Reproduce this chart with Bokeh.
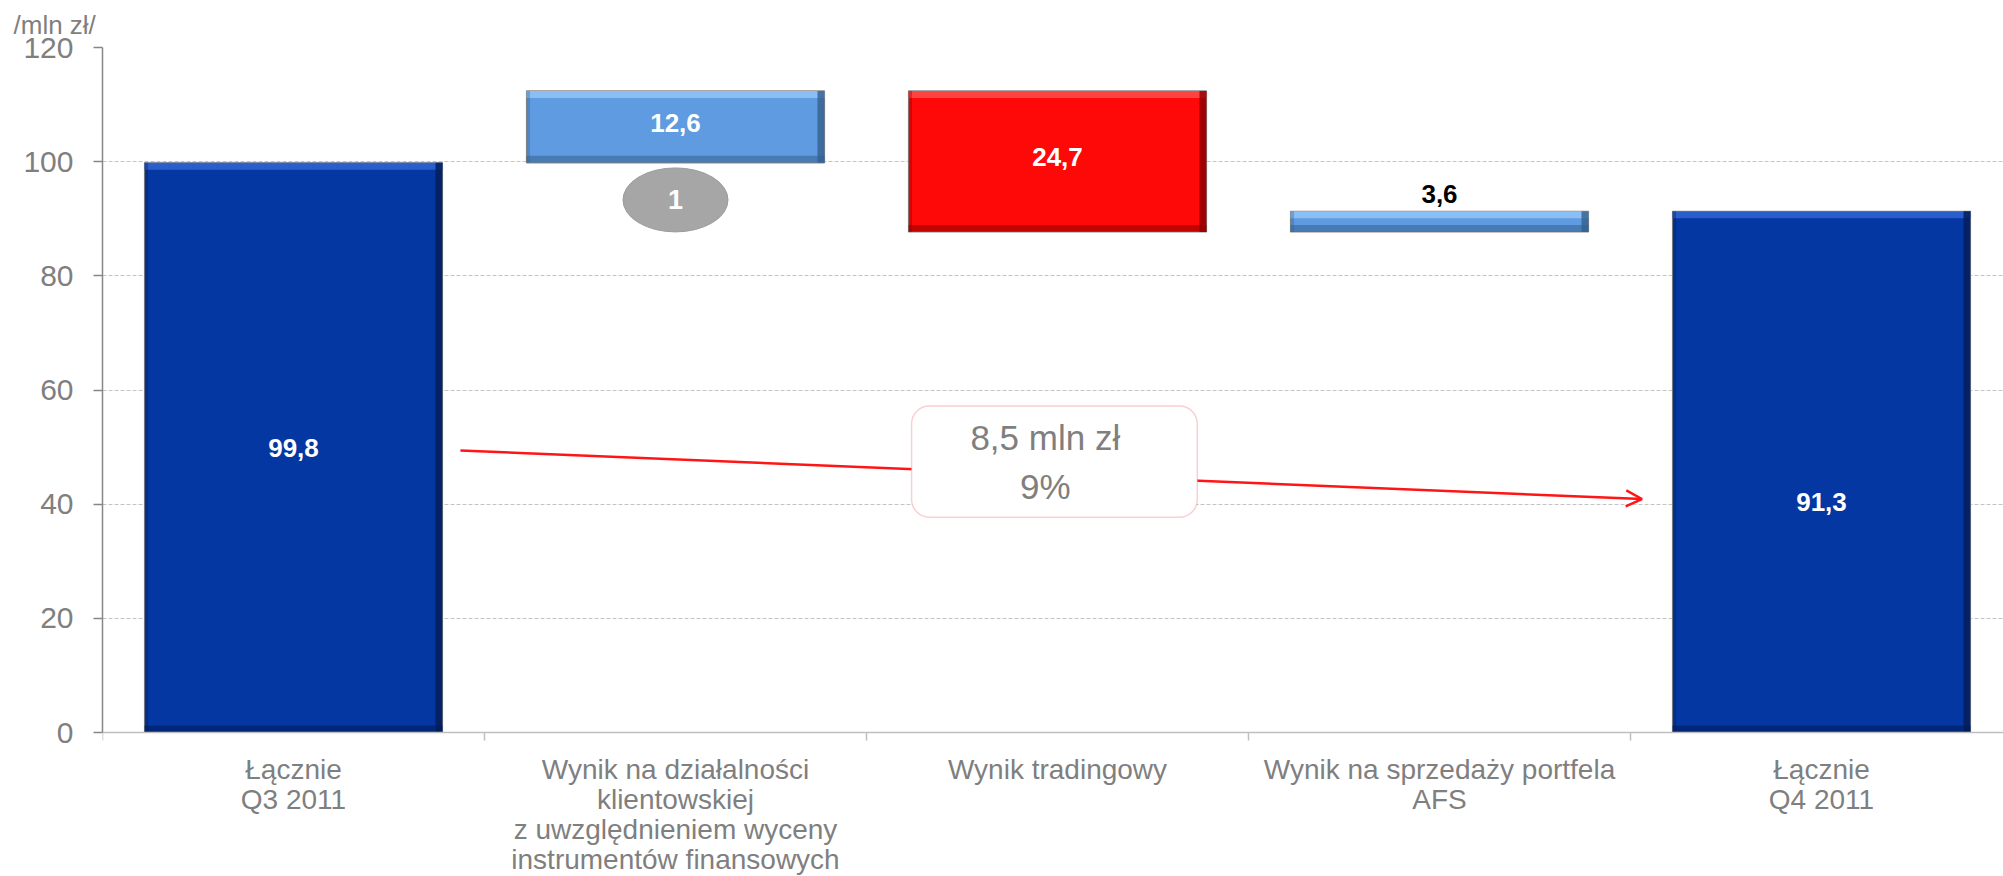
from bokeh.plotting import figure
from bokeh.models import Range1d, FixedTicker, Label, Arrow, OpenHead, BoxAnnotation, ColumnDataSource
from bokeh.core.properties import value
from bokeh.embed import file_html
from bokeh.resources import INLINE

# ---------------- data ----------------
category_lines = [
    ["Łącznie", "Q3 2011"],
    ["Wynik na działalności", "klientowskiej", "z uwzględnieniem wyceny", "instrumentów finansowych"],
    ["Wynik tradingowy"],
    ["Wynik na sprzedaży portfela", "AFS"],
    ["Łącznie", "Q4 2011"],
]
changes = [99.8, 12.6, -24.7, 3.6, 91.3]
kinds = ["total", "up", "down", "up", "total"]
y_ticks = [0, 20, 40, 60, 80, 100, 120]
unit_label = "/mln zł/"
marker_text = "1"

# ---------------- styles ----------------
FONT = "Liberation Sans"
GREY_TXT = "#7f7f7f"
fill_by_kind = {"total": "#0537a2", "up": "#5f9be0", "down": "#fe0808"}
hi_by_kind = {"total": "#2f63cf", "up": "#8fc3f6", "down": "#ff4a4a"}
lo_by_kind = {"total": "#021c55", "up": "#34608f", "down": "#8c0000"}
BAR_W = 0.78

# waterfall geometry from data
bottoms, tops = [], []
running = 0.0
for v, k in zip(changes, kinds):
    if k == "total":
        b, t = 0.0, v
        running = v
    else:
        b, t = running, running + v
        running = t
    bottoms.append(min(b, t))
    tops.append(max(b, t))
xs = [i + 0.5 for i in range(len(changes))]
fmt = lambda v: f"{abs(v):.1f}".replace(".", ",")

W, H = 2003, 876
ML, MT, MB, MR = 102, 47, 0, 0
frame_w = W - ML - MR
frame_h = H - MT - MB
PX_X = 382.0                    # pixels per category
PX_Y = 685.0 / 120.0            # pixels per unit
X_END = frame_w / PX_X
Y_END = 120
Y_MIN = Y_END - frame_h / PX_Y  # room below zero for the category texts

p = figure(width=W, height=H, output_backend="svg", toolbar_location=None,
           x_axis_location="above",
           x_range=Range1d(0, X_END), y_range=Range1d(Y_MIN, Y_END),
           min_border_left=ML, min_border_top=MT, min_border_bottom=MB, min_border_right=MR)
p.outline_line_color = None
p.background_fill_color = "white"
p.border_fill_color = "white"

# unit label as title
p.title.text = unit_label
p.title.align = "left"
p.title.offset = -89
p.title.standoff = 15
p.title.text_font = FONT
p.title.text_font_size = "26px"
p.title.text_font_style = "normal"
p.title.text_color = GREY_TXT

# y axis
p.yaxis.ticker = FixedTicker(ticks=y_ticks)
p.yaxis.bounds = (0, Y_END)
p.yaxis.axis_line_color = "#868686"
p.yaxis.axis_line_width = 1.5
p.yaxis.major_tick_line_color = "#868686"
p.yaxis.major_tick_line_width = 1.5
p.yaxis.major_tick_out = 9
p.yaxis.major_tick_in = 0
p.yaxis.minor_tick_line_color = None
p.yaxis.major_label_text_font = FONT
p.yaxis.major_label_text_font_size = "30px"
p.yaxis.major_label_text_color = GREY_TXT
p.yaxis.major_label_standoff = 20

# x axis drawn at y = 0, ticks between categories pointing down
boundaries = list(range(len(changes) + 1))
p.xaxis.fixed_location = 0
p.xaxis.ticker = FixedTicker(ticks=boundaries)
p.xaxis.major_label_overrides = {b: "" for b in boundaries}
p.xaxis.axis_line_color = "#bfbfbf"
p.xaxis.axis_line_width = 1.5
p.xaxis.major_tick_line_color = "#bfbfbf"
p.xaxis.major_tick_line_width = 1.5
p.xaxis.major_tick_out = 0
p.xaxis.major_tick_in = 8
p.xaxis.minor_tick_line_color = None
p.xaxis.major_label_text_font_size = "1px"
p.xaxis.major_label_text_color = None
p.xaxis.major_label_standoff = 0

p.xgrid.grid_line_color = None
p.ygrid.ticker = FixedTicker(ticks=y_ticks[1:])
p.ygrid.grid_line_color = "#c4c4c4"
p.ygrid.grid_line_dash = "4 2"
p.ygrid.grid_line_width = 1

# category texts under the axis
tx, ty, tt = [], [], []
for x, lines in zip(xs, category_lines):
    for j, line in enumerate(lines):
        tx.append(x)
        ty.append(-(37.0 + 30.0 * j) / PX_Y)
        tt.append(line)
p.text(x=tx, y=ty, text=tt, text_font=value(FONT), text_font_size="28px",
       text_color=GREY_TXT, text_align="center", text_baseline="middle")

# bars
src = ColumnDataSource(dict(
    x=xs, bottom=bottoms, top=tops,
    fill=[fill_by_kind[k] for k in kinds],
))
p.vbar(x="x", width=BAR_W, bottom="bottom", top="top", source=src,
       fill_color="fill", line_color="#8a8a8a", line_width=1.2)

# bevel strips (thickness in pixels converted via the scales)
bev = 7
dx = bev / PX_X
dy = bev / PX_Y
lefts = [x - BAR_W / 2 for x in xs]
rights = [x + BAR_W / 2 for x in xs]
p.quad(left=lefts, right=rights, top=tops, bottom=[t - dy for t in tops],
       fill_color=[hi_by_kind[k] for k in kinds], line_color=None, fill_alpha=0.9)
p.quad(left=[r - dx for r in rights], right=rights, top=tops, bottom=bottoms,
       fill_color=[lo_by_kind[k] for k in kinds], line_color=None, fill_alpha=0.8)
p.quad(left=lefts, right=rights, top=[b + dy for b in bottoms], bottom=bottoms,
       fill_color=[lo_by_kind[k] for k in kinds], line_color=None, fill_alpha=0.55)
p.quad(left=lefts, right=[l + dx * 0.5 for l in lefts], top=tops, bottom=bottoms,
       fill_color=[lo_by_kind[k] for k in kinds], line_color=None, fill_alpha=0.35)

# value labels
label_offsets = [0, 4, 4, 17, -30]
for i, (v, k) in enumerate(zip(changes, kinds)):
    y = tops[i] if i == 3 else (bottoms[i] + tops[i]) / 2
    color = "black" if i == 3 else "white"
    p.add_layout(Label(x=xs[i], y=y, y_offset=label_offsets[i], text=fmt(v),
                       text_font=FONT, text_font_style="bold", text_font_size="26px",
                       text_color=color, text_align="center", text_baseline="middle"))

# marker ellipse "1"
p.ellipse(x=[xs[1]], y=[93.3], width=105, height=64, width_units="screen", height_units="screen",
          fill_color="#a6a6a6", line_color="#9c9c9c")
p.add_layout(Label(x=xs[1], y=93.3, text=marker_text, text_font=FONT, text_font_style="bold",
                   text_font_size="27px", text_color="white", text_align="center",
                   text_baseline="middle"))

# arrow from first total to last total
p.add_layout(Arrow(x_start=0.937, y_start=49.4, x_end=4.03, y_end=40.9,
                   line_color="#ff1515", line_width=2.5,
                   end=OpenHead(size=16, line_color="#ff1515", line_width=2.5)))

# change box
diff = changes[0] - changes[-1]
pct = round(100 * diff / changes[0])
p.add_layout(BoxAnnotation(left=2.118, right=2.866, bottom=37.7, top=57.2,
                           fill_color="white", fill_alpha=1.0, line_color="#f0606e",
                           line_width=1.5, border_radius=18, level="overlay"))
p.add_layout(Label(x=2.468, y=(37.7 + 57.2) / 2, y_offset=24, text=f"{diff:.1f}".replace(".", ",") + " mln zł",
                   text_font=FONT, text_font_size="35px", text_color=GREY_TXT,
                   text_align="center", text_baseline="middle", level="overlay"))
p.add_layout(Label(x=2.468, y=(37.7 + 57.2) / 2, y_offset=-25, text=f"{pct}%",
                   text_font=FONT, text_font_size="35px", text_color=GREY_TXT,
                   text_align="center", text_baseline="middle", level="overlay"))

open("out.html", "w").write(file_html(p, INLINE))
